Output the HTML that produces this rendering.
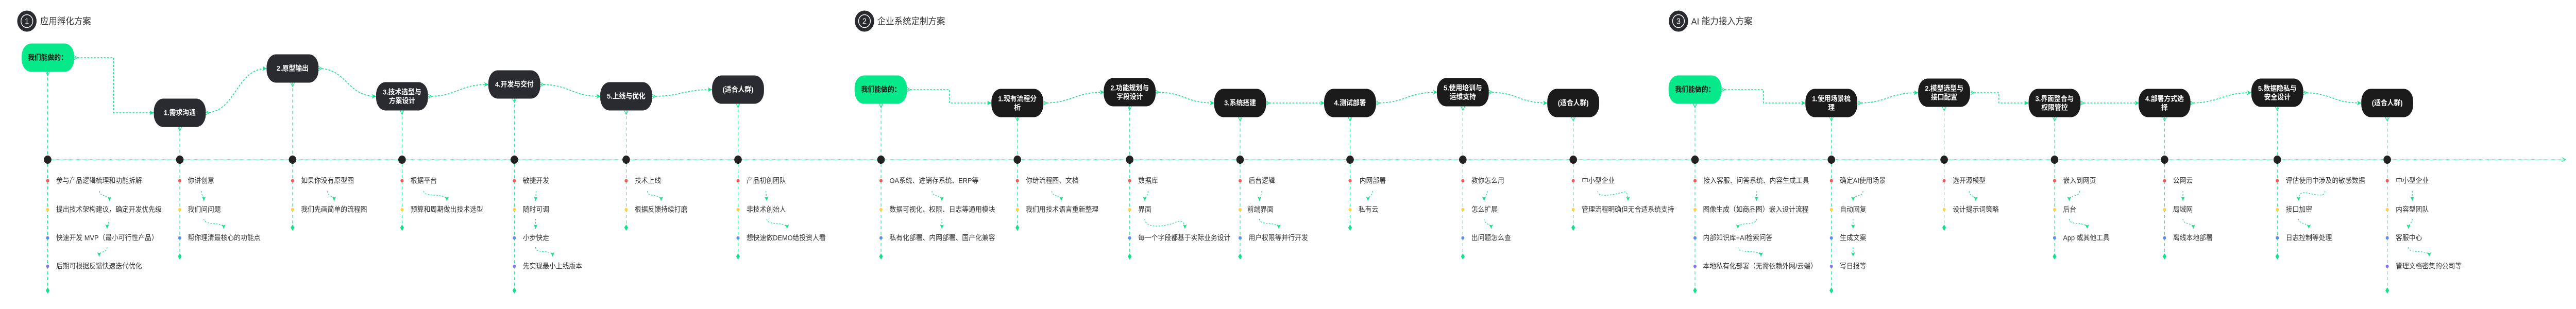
<!DOCTYPE html>
<html><head><meta charset="utf-8"><style>
html,body{margin:0;padding:0;background:#fff;width:100%;height:100%;overflow:hidden;}
svg{display:block;position:fixed;left:0;top:0;width:100vw;height:100vh;}
text{font-family:"Liberation Sans","Noto Sans CJK SC",sans-serif;}
.c{fill:none;stroke:#10e28a;stroke-width:1.6;stroke-dasharray:4 3}
.v{fill:none;stroke:#10e28a;stroke-width:1.1;stroke-dasharray:6 5}
.s{fill:none;stroke:#10e28a;stroke-width:1.3;stroke-dasharray:3 3}
.tl{fill:none;stroke:#10e28a;stroke-width:1.6;stroke-dasharray:1.2 1.3}
.a{fill:#2a2b30}.b{fill:#1b1b1b}.g{fill:#05e98a}
.nt{fill:#fff;font-size:14px;font-weight:bold;text-anchor:middle;dominant-baseline:central}
.gt{fill:#111;font-size:14px;font-weight:bold;text-anchor:middle;dominant-baseline:central}
.it{fill:#333;font-size:14px;dominant-baseline:central}
.h{fill:#333;font-size:18px;dominant-baseline:central}
.hn{fill:#fff;font-size:16px;text-anchor:middle;dominant-baseline:central}
.d{fill:#222}
.dm{fill:#10e28a}
.r{fill:#f25757}.y{fill:#fdd247}.u{fill:#5b8ef5}.p{fill:#8a77f0}
</style></head><body>
<svg viewBox="0 0 5459 600" preserveAspectRatio="none" xmlns="http://www.w3.org/2000/svg">
<defs>
<marker id="ae" viewBox="0 0 10 10" refX="10" refY="5" markerWidth="9" markerHeight="9" markerUnits="userSpaceOnUse" orient="auto"><path d="M0,0 L10,5 L0,10 L2.5,5Z" fill="#10e28a"/></marker>
<marker id="as" viewBox="0 0 10 10" refX="0.5" refY="5" markerWidth="9" markerHeight="9" markerUnits="userSpaceOnUse" orient="auto"><path d="M0.5,0.5 L9,5 L0.5,9.5" fill="none" stroke="#10e28a" stroke-width="1.3"/></marker>
<marker id="sa" viewBox="0 0 10 10" refX="10" refY="5" markerWidth="8" markerHeight="8" markerUnits="userSpaceOnUse" orient="auto"><path d="M0,0 L10,5 L0,10 L2,5Z" fill="#10e28a"/></marker>
<marker id="te" viewBox="0 0 10 10" refX="9" refY="5" markerWidth="10" markerHeight="10" markerUnits="userSpaceOnUse" orient="auto"><path d="M1,1 L9,5 L1,9" fill="none" stroke="#10e28a" stroke-width="1.2"/></marker>
</defs>

<!-- Headers -->
<circle cx="57" cy="41" r="20.5" fill="#2a2b30"/><circle cx="57" cy="41" r="12.5" fill="none" stroke="#fff" stroke-width="1.5"/><text x="57" y="42" class="hn">1</text>
<text x="85" y="41" class="h">应用孵化方案</text>
<circle cx="1832" cy="41" r="20.5" fill="#2a2b30"/><circle cx="1832" cy="41" r="12.5" fill="none" stroke="#fff" stroke-width="1.5"/><text x="1832" y="42" class="hn">2</text>
<text x="1859" y="41" class="h">企业系统定制方案</text>
<circle cx="3557" cy="41" r="20.5" fill="#2a2b30"/><circle cx="3557" cy="41" r="12.5" fill="none" stroke="#fff" stroke-width="1.5"/><text x="3557" y="42" class="hn">3</text>
<text x="3584" y="41" class="h">AI 能力接入方案</text>

<!-- Timeline -->
<line class="tl" x1="101" y1="310" x2="5437" y2="310" marker-end="url(#te)"/>

<!-- Connectors section 1 -->
<path class="c" d="M157,112 L241,112 L241,219 L326,219" marker-start="url(#as)" marker-end="url(#ae)"/>
<path class="c" d="M436,219 C500,219 500,133 565,133" marker-start="url(#as)" marker-end="url(#ae)"/>
<path class="c" d="M675,133 C735,133 735,187 797,187" marker-start="url(#as)" marker-end="url(#ae)"/>
<path class="c" d="M907,187 C971,187 971,164 1035,164" marker-start="url(#as)" marker-end="url(#ae)"/>
<path class="c" d="M1145,164 C1209,164 1209,187 1273,187" marker-start="url(#as)" marker-end="url(#ae)"/>
<path class="c" d="M1382,187 C1445,187 1445,174 1509,174" marker-start="url(#as)" marker-end="url(#ae)"/>
<!-- Connectors section 2 -->
<path class="c" d="M1922,174 L2012,174 L2012,200 L2101,200" marker-start="url(#as)" marker-end="url(#ae)"/>
<path class="c" d="M2211,200 C2275,200 2275,179 2340,179" marker-start="url(#as)" marker-end="url(#ae)"/>
<path class="c" d="M2449,179 C2511,179 2511,200 2573,200" marker-start="url(#as)" marker-end="url(#ae)"/>
<path class="c" d="M2683,200 L2807,200" marker-start="url(#as)" marker-end="url(#ae)"/>
<path class="c" d="M2916,200 C2981,200 2981,179 3046,179" marker-start="url(#as)" marker-end="url(#ae)"/>
<path class="c" d="M3155,179 C3217,179 3217,200 3279,200" marker-start="url(#as)" marker-end="url(#ae)"/>
<!-- Connectors section 3 -->
<path class="c" d="M3648,174 L3737,174 L3737,200 L3826,200" marker-start="url(#as)" marker-end="url(#ae)"/>
<path class="c" d="M3937,200 C4001,200 4001,180 4065,180" marker-start="url(#as)" marker-end="url(#ae)"/>
<path class="c" d="M4176,180 L4236,180 L4236,200 L4299,200" marker-start="url(#as)" marker-end="url(#ae)"/>
<path class="c" d="M4409,200 L4533,200" marker-start="url(#as)" marker-end="url(#ae)"/>
<path class="c" d="M4641,200 C4706,200 4706,180 4771,180" marker-start="url(#as)" marker-end="url(#ae)"/>
<path class="c" d="M4881,180 C4942,180 4942,200 5004,200" marker-start="url(#as)" marker-end="url(#ae)"/>

<!-- Nodes section 1 -->
<rect class="g" x="46" y="84.5" width="111" height="55" rx="20" ry="24"/><text class="gt" x="101" y="112">我们能做的：</text>
<rect class="a" x="326" y="191.5" width="110" height="55" rx="20" ry="24"/><text class="nt" x="381" y="219">1.需求沟通</text>
<rect class="a" x="565" y="105.5" width="110" height="55" rx="20" ry="24"/><text class="nt" x="620" y="133">2.原型输出</text>
<rect class="a" x="797" y="159.5" width="110" height="55" rx="20" ry="24"/><text class="nt" x="852" y="179">3.技术选型与</text><text class="nt" x="852" y="196">方案设计</text>
<rect class="a" x="1035" y="136.5" width="110" height="55" rx="20" ry="24"/><text class="nt" x="1090" y="164">4.开发与交付</text>
<rect class="a" x="1272" y="159.5" width="110" height="55" rx="20" ry="24"/><text class="nt" x="1327" y="187">5.上线与优化</text>
<rect class="a" x="1509" y="146.5" width="110" height="55" rx="20" ry="24"/><text class="nt" x="1564" y="174">(适合人群)</text>
<!-- Nodes section 2 -->
<rect class="g" x="1811" y="146.5" width="111" height="55" rx="20" ry="24"/><text class="gt" x="1867" y="174">我们能做的：</text>
<rect class="b" x="2101" y="172.5" width="110" height="55" rx="20" ry="24"/><text class="nt" x="2156" y="192">1.现有流程分</text><text class="nt" x="2156" y="209">析</text>
<rect class="b" x="2339" y="151.5" width="110" height="55" rx="20" ry="24"/><text class="nt" x="2394" y="171">2.功能规划与</text><text class="nt" x="2394" y="188">字段设计</text>
<rect class="b" x="2573" y="172.5" width="110" height="55" rx="20" ry="24"/><text class="nt" x="2628" y="200">3.系统搭建</text>
<rect class="b" x="2806" y="172.5" width="110" height="55" rx="20" ry="24"/><text class="nt" x="2861" y="200">4.测试部署</text>
<rect class="b" x="3045" y="151.5" width="110" height="55" rx="20" ry="24"/><text class="nt" x="3100" y="171">5.使用培训与</text><text class="nt" x="3100" y="188">运维支持</text>
<rect class="b" x="3279" y="172.5" width="110" height="55" rx="20" ry="24"/><text class="nt" x="3334" y="200">(适合人群)</text>
<!-- Nodes section 3 -->
<rect class="g" x="3536" y="146.5" width="112" height="55" rx="20" ry="24"/><text class="gt" x="3592" y="174">我们能做的：</text>
<rect class="b" x="3826" y="172.5" width="110" height="55" rx="20" ry="24"/><text class="nt" x="3881" y="192">1.使用场景梳</text><text class="nt" x="3881" y="209">理</text>
<rect class="b" x="4065" y="152.5" width="110" height="55" rx="20" ry="24"/><text class="nt" x="4120" y="172">2.模型选型与</text><text class="nt" x="4120" y="189">接口配置</text>
<rect class="b" x="4299" y="172.5" width="110" height="55" rx="20" ry="24"/><text class="nt" x="4354" y="192">3.界面整合与</text><text class="nt" x="4354" y="209">权限管控</text>
<rect class="b" x="4532" y="172.5" width="110" height="55" rx="20" ry="24"/><text class="nt" x="4587" y="192">4.部署方式选</text><text class="nt" x="4587" y="209">择</text>
<rect class="b" x="4771" y="152.5" width="110" height="55" rx="20" ry="24"/><text class="nt" x="4826" y="172">5.数据隐私与</text><text class="nt" x="4826" y="189">安全设计</text>
<rect class="b" x="5004" y="172.5" width="110" height="55" rx="20" ry="24"/><text class="nt" x="5059" y="200">(适合人群)</text>

<!-- ===== Columns section 1 ===== -->
<line class="v" x1="101" y1="139.5" x2="101" y2="302" marker-start="url(#as)"/>
<circle class="d" cx="101" cy="310" r="8"/>
<line class="v" x1="101" y1="318" x2="101" y2="564"/>
<path class="dm" d="M101,558 l4,6 -4,6 -4,-6z"/>
<circle class="r" cx="101" cy="351" r="3.3"/><text class="it" x="119" y="351">参与产品逻辑梳理和功能拆解</text>
<circle class="y" cx="101" cy="407" r="3.3"/><text class="it" x="119" y="407">提出技术架构建议，确定开发优先级</text>
<circle class="u" cx="101" cy="462" r="3.3"/><text class="it" x="119" y="462">快速开发 MVP（最小可行性产品）</text>
<circle class="p" cx="101" cy="517" r="3.3"/><text class="it" x="119" y="517">后期可根据反馈快速迭代优化</text>
<path class="s" d="M211,371 C211,383 232,378 232,390" marker-end="url(#sa)"/>
<path class="s" d="M231,425 C231,437 227,432 227,444" marker-end="url(#sa)"/>
<path class="s" d="M227,480 C227,492 210,486 210,498" marker-end="url(#sa)"/>

<line class="v" x1="381" y1="246.5" x2="381" y2="302" marker-start="url(#as)"/>
<circle class="d" cx="381" cy="310" r="8"/>
<line class="v" x1="381" y1="318" x2="381" y2="498"/>
<path class="dm" d="M381,492 l4,6 -4,6 -4,-6z"/>
<circle class="r" cx="381" cy="351" r="3.3"/><text class="it" x="398" y="351">你讲创意</text>
<circle class="y" cx="381" cy="407" r="3.3"/><text class="it" x="398" y="407">我们问问题</text>
<circle class="u" cx="381" cy="462" r="3.3"/><text class="it" x="398" y="462">帮你理清最核心的功能点</text>
<path class="s" d="M427,371 C427,383 432,378 432,390" marker-end="url(#sa)"/>
<path class="s" d="M432,425 C432,440 474,428 474,444" marker-end="url(#sa)"/>

<line class="v" x1="620" y1="160.5" x2="620" y2="302" marker-start="url(#as)"/>
<circle class="d" cx="620" cy="310" r="8"/>
<line class="v" x1="620" y1="318" x2="620" y2="442"/>
<path class="dm" d="M620,436 l4,6 -4,6 -4,-6z"/>
<circle class="r" cx="620" cy="351" r="3.3"/><text class="it" x="638" y="351">如果你没有原型图</text>
<circle class="y" cx="620" cy="407" r="3.3"/><text class="it" x="638" y="407">我们先画简单的流程图</text>
<path class="s" d="M694,371 C694,383 708,378 708,390" marker-end="url(#sa)"/>

<line class="v" x1="852" y1="214.5" x2="852" y2="302" marker-start="url(#as)"/>
<circle class="d" cx="852" cy="310" r="8"/>
<line class="v" x1="852" y1="318" x2="852" y2="442"/>
<path class="dm" d="M852,436 l4,6 -4,6 -4,-6z"/>
<circle class="r" cx="852" cy="351" r="3.3"/><text class="it" x="870" y="351">根据平台</text>
<circle class="y" cx="852" cy="407" r="3.3"/><text class="it" x="870" y="407">预算和周期做出技术选型</text>
<path class="s" d="M898,371 C898,385 947,372 947,390" marker-end="url(#sa)"/>

<line class="v" x1="1090" y1="191.5" x2="1090" y2="302" marker-start="url(#as)"/>
<circle class="d" cx="1090" cy="310" r="8"/>
<line class="v" x1="1090" y1="318" x2="1090" y2="564"/>
<path class="dm" d="M1090,558 l4,6 -4,6 -4,-6z"/>
<circle class="r" cx="1090" cy="351" r="3.3"/><text class="it" x="1108" y="351">敏捷开发</text>
<circle class="y" cx="1090" cy="407" r="3.3"/><text class="it" x="1108" y="407">随时可调</text>
<circle class="u" cx="1090" cy="462" r="3.3"/><text class="it" x="1108" y="462">小步快走</text>
<circle class="p" cx="1090" cy="517" r="3.3"/><text class="it" x="1108" y="517">先实现最小上线版本</text>
<path class="s" d="M1136,371 L1135,390" marker-end="url(#sa)"/>
<path class="s" d="M1135,425 L1135,444" marker-end="url(#sa)"/>
<path class="s" d="M1135,480 C1135,495 1171,482 1171,498" marker-end="url(#sa)"/>

<line class="v" x1="1327" y1="214.5" x2="1327" y2="302" marker-start="url(#as)"/>
<circle class="d" cx="1327" cy="310" r="8"/>
<line class="v" x1="1327" y1="318" x2="1327" y2="442"/>
<path class="dm" d="M1327,436 l4,6 -4,6 -4,-6z"/>
<circle class="r" cx="1327" cy="351" r="3.3"/><text class="it" x="1345" y="351">技术上线</text>
<circle class="y" cx="1327" cy="407" r="3.3"/><text class="it" x="1345" y="407">根据反馈持续打磨</text>
<path class="s" d="M1372,371 C1372,385 1401,374 1401,390" marker-end="url(#sa)"/>

<line class="v" x1="1564" y1="201.5" x2="1564" y2="302" marker-start="url(#as)"/>
<circle class="d" cx="1564" cy="310" r="8"/>
<line class="v" x1="1564" y1="318" x2="1564" y2="498"/>
<path class="dm" d="M1564,492 l4,6 -4,6 -4,-6z"/>
<circle class="r" cx="1564" cy="351" r="3.3"/><text class="it" x="1582" y="351">产品初创团队</text>
<circle class="y" cx="1564" cy="407" r="3.3"/><text class="it" x="1582" y="407">非技术创始人</text>
<circle class="u" cx="1564" cy="462" r="3.3"/><text class="it" x="1582" y="462">想快速做DEMO给投资人看</text>
<path class="s" d="M1623,371 L1625,390" marker-end="url(#sa)"/>
<path class="s" d="M1625,425 C1625,440 1668,428 1668,444" marker-end="url(#sa)"/>

<!-- ===== Columns section 2 ===== -->
<line class="v" x1="1867" y1="201.5" x2="1867" y2="302" marker-start="url(#as)"/>
<circle class="d" cx="1867" cy="310" r="8"/>
<line class="v" x1="1867" y1="318" x2="1867" y2="498"/>
<path class="dm" d="M1867,492 l4,6 -4,6 -4,-6z"/>
<circle class="r" cx="1867" cy="351" r="3.3"/><text class="it" x="1885" y="351">OA系统、进销存系统、ERP等</text>
<circle class="y" cx="1867" cy="407" r="3.3"/><text class="it" x="1885" y="407">数据可视化、权限、日志等通用模块</text>
<circle class="u" cx="1867" cy="462" r="3.3"/><text class="it" x="1885" y="462">私有化部署、内网部署、国产化兼容</text>
<path class="s" d="M1975,371 C1975,383 1996,378 1996,390" marker-end="url(#sa)"/>
<path class="s" d="M1996,425 L1996,444" marker-end="url(#sa)"/>

<line class="v" x1="2156" y1="227.5" x2="2156" y2="302" marker-start="url(#as)"/>
<circle class="d" cx="2156" cy="310" r="8"/>
<line class="v" x1="2156" y1="318" x2="2156" y2="442"/>
<path class="dm" d="M2156,436 l4,6 -4,6 -4,-6z"/>
<circle class="r" cx="2156" cy="351" r="3.3"/><text class="it" x="2174" y="351">你给流程图、文档</text>
<circle class="y" cx="2156" cy="407" r="3.3"/><text class="it" x="2174" y="407">我们用技术语言重新整理</text>
<path class="s" d="M2229,371 C2229,383 2249,378 2249,390" marker-end="url(#sa)"/>

<line class="v" x1="2394" y1="206.5" x2="2394" y2="302" marker-start="url(#as)"/>
<circle class="d" cx="2394" cy="310" r="8"/>
<line class="v" x1="2394" y1="318" x2="2394" y2="498"/>
<path class="dm" d="M2394,492 l4,6 -4,6 -4,-6z"/>
<circle class="r" cx="2394" cy="351" r="3.3"/><text class="it" x="2412" y="351">数据库</text>
<circle class="y" cx="2394" cy="407" r="3.3"/><text class="it" x="2412" y="407">界面</text>
<circle class="u" cx="2394" cy="462" r="3.3"/><text class="it" x="2412" y="462">每一个字段都基于实际业务设计</text>
<path class="s" d="M2433,371 C2433,380 2426,381 2426,390" marker-end="url(#sa)"/>
<path class="s" d="M2426,425 C2426,445 2470,440 2490,432 C2505,426 2511,432 2511,444" marker-end="url(#sa)"/>

<line class="v" x1="2628" y1="227.5" x2="2628" y2="302" marker-start="url(#as)"/>
<circle class="d" cx="2628" cy="310" r="8"/>
<line class="v" x1="2628" y1="318" x2="2628" y2="498"/>
<path class="dm" d="M2628,492 l4,6 -4,6 -4,-6z"/>
<circle class="r" cx="2628" cy="351" r="3.3"/><text class="it" x="2646" y="351">后台逻辑</text>
<circle class="y" cx="2628" cy="407" r="3.3"/><text class="it" x="2643" y="407">前端界面</text>
<circle class="u" cx="2628" cy="462" r="3.3"/><text class="it" x="2646" y="462">用户权限等并行开发</text>
<path class="s" d="M2674,371 C2674,380 2669,381 2669,390" marker-end="url(#sa)"/>
<path class="s" d="M2669,425 C2669,440 2710,428 2710,444" marker-end="url(#sa)"/>

<line class="v" x1="2861" y1="227.5" x2="2861" y2="302" marker-start="url(#as)"/>
<circle class="d" cx="2861" cy="310" r="8"/>
<line class="v" x1="2861" y1="318" x2="2861" y2="442"/>
<path class="dm" d="M2861,436 l4,6 -4,6 -4,-6z"/>
<circle class="r" cx="2861" cy="351" r="3.3"/><text class="it" x="2881" y="351">内网部署</text>
<circle class="y" cx="2861" cy="407" r="3.3"/><text class="it" x="2879" y="407">私有云</text>
<path class="s" d="M2909,371 C2909,380 2899,381 2899,390" marker-end="url(#sa)"/>

<line class="v" x1="3100" y1="206.5" x2="3100" y2="302" marker-start="url(#as)"/>
<circle class="d" cx="3100" cy="310" r="8"/>
<line class="v" x1="3100" y1="318" x2="3100" y2="498"/>
<path class="dm" d="M3100,492 l4,6 -4,6 -4,-6z"/>
<circle class="r" cx="3100" cy="351" r="3.3"/><text class="it" x="3118" y="351">教你怎么用</text>
<circle class="y" cx="3100" cy="407" r="3.3"/><text class="it" x="3118" y="407">怎么扩展</text>
<circle class="u" cx="3100" cy="462" r="3.3"/><text class="it" x="3118" y="462">出问题怎么查</text>
<path class="s" d="M3152,371 C3152,380 3145,381 3145,390" marker-end="url(#sa)"/>
<path class="s" d="M3145,425 C3145,436 3160,434 3160,444" marker-end="url(#sa)"/>

<line class="v" x1="3334" y1="227.5" x2="3334" y2="302" marker-start="url(#as)"/>
<circle class="d" cx="3334" cy="310" r="8"/>
<line class="v" x1="3334" y1="318" x2="3334" y2="442"/>
<path class="dm" d="M3334,436 l4,6 -4,6 -4,-6z"/>
<circle class="r" cx="3334" cy="351" r="3.3"/><text class="it" x="3352" y="351">中小型企业</text>
<circle class="y" cx="3334" cy="407" r="3.3"/><text class="it" x="3352" y="407">管理流程明确但无合适系统支持</text>
<path class="s" d="M3386,371 C3386,385 3420,378 3440,373 C3448,371 3450,378 3450,390" marker-end="url(#sa)"/>

<!-- ===== Columns section 3 ===== -->
<line class="v" x1="3592" y1="201.5" x2="3592" y2="302" marker-start="url(#as)"/>
<circle class="d" cx="3592" cy="310" r="8"/>
<line class="v" x1="3592" y1="318" x2="3592" y2="564"/>
<path class="dm" d="M3592,558 l4,6 -4,6 -4,-6z"/>
<circle class="r" cx="3592" cy="351" r="3.3"/><text class="it" x="3610" y="351">接入客服、问答系统、内容生成工具</text>
<circle class="y" cx="3592" cy="407" r="3.3"/><text class="it" x="3609" y="407">图像生成（如商品图）嵌入设计流程</text>
<circle class="u" cx="3592" cy="462" r="3.3"/><text class="it" x="3609" y="462">内部知识库+AI检索问答</text>
<circle class="p" cx="3592" cy="517" r="3.3"/><text class="it" x="3609" y="517">本地私有化部署（无需依赖外网/云端）</text>
<path class="s" d="M3723,371 L3722,390" marker-end="url(#sa)"/>
<path class="s" d="M3723,425 C3723,440 3683,428 3683,444" marker-end="url(#sa)"/>
<path class="s" d="M3683,480 C3683,495 3732,482 3732,498" marker-end="url(#sa)"/>

<line class="v" x1="3881" y1="227.5" x2="3881" y2="302" marker-start="url(#as)"/>
<circle class="d" cx="3881" cy="310" r="8"/>
<line class="v" x1="3881" y1="318" x2="3881" y2="564"/>
<path class="dm" d="M3881,558 l4,6 -4,6 -4,-6z"/>
<circle class="r" cx="3881" cy="351" r="3.3"/><text class="it" x="3899" y="351">确定AI使用场景</text>
<circle class="y" cx="3881" cy="407" r="3.3"/><text class="it" x="3899" y="407">自动回复</text>
<circle class="u" cx="3881" cy="462" r="3.3"/><text class="it" x="3899" y="462">生成文案</text>
<circle class="p" cx="3881" cy="517" r="3.3"/><text class="it" x="3899" y="517">写日报等</text>
<path class="s" d="M3948,371 C3948,384 3927,376 3927,390" marker-end="url(#sa)"/>
<path class="s" d="M3927,425 L3927,444" marker-end="url(#sa)"/>
<path class="s" d="M3927,480 L3927,498" marker-end="url(#sa)"/>

<line class="v" x1="4120" y1="207.5" x2="4120" y2="302" marker-start="url(#as)"/>
<circle class="d" cx="4120" cy="310" r="8"/>
<line class="v" x1="4120" y1="318" x2="4120" y2="442"/>
<path class="dm" d="M4120,436 l4,6 -4,6 -4,-6z"/>
<circle class="r" cx="4120" cy="351" r="3.3"/><text class="it" x="4138" y="351">选开源模型</text>
<circle class="y" cx="4120" cy="407" r="3.3"/><text class="it" x="4138" y="407">设计提示词策略</text>
<path class="s" d="M4173,371 C4173,383 4187,378 4187,390" marker-end="url(#sa)"/>

<line class="v" x1="4354" y1="227.5" x2="4354" y2="302" marker-start="url(#as)"/>
<circle class="d" cx="4354" cy="310" r="8"/>
<line class="v" x1="4354" y1="318" x2="4354" y2="498"/>
<path class="dm" d="M4354,492 l4,6 -4,6 -4,-6z"/>
<circle class="r" cx="4354" cy="351" r="3.3"/><text class="it" x="4372" y="351">嵌入到网页</text>
<circle class="y" cx="4354" cy="407" r="3.3"/><text class="it" x="4372" y="407">后台</text>
<circle class="u" cx="4354" cy="462" r="3.3"/><text class="it" x="4372" y="462">App 或其他工具</text>
<path class="s" d="M4407,371 C4407,384 4385,376 4385,390" marker-end="url(#sa)"/>
<path class="s" d="M4385,425 C4385,440 4423,428 4423,444" marker-end="url(#sa)"/>

<line class="v" x1="4587" y1="227.5" x2="4587" y2="302" marker-start="url(#as)"/>
<circle class="d" cx="4587" cy="310" r="8"/>
<line class="v" x1="4587" y1="318" x2="4587" y2="498"/>
<path class="dm" d="M4587,492 l4,6 -4,6 -4,-6z"/>
<circle class="r" cx="4587" cy="351" r="3.3"/><text class="it" x="4605" y="351">公网云</text>
<circle class="y" cx="4587" cy="407" r="3.3"/><text class="it" x="4605" y="407">局域网</text>
<circle class="u" cx="4587" cy="462" r="3.3"/><text class="it" x="4605" y="462">离线本地部署</text>
<path class="s" d="M4626,371 L4626,390" marker-end="url(#sa)"/>
<path class="s" d="M4626,425 C4626,438 4648,430 4648,444" marker-end="url(#sa)"/>

<line class="v" x1="4826" y1="207.5" x2="4826" y2="302" marker-start="url(#as)"/>
<circle class="d" cx="4826" cy="310" r="8"/>
<line class="v" x1="4826" y1="318" x2="4826" y2="498"/>
<path class="dm" d="M4826,492 l4,6 -4,6 -4,-6z"/>
<circle class="r" cx="4826" cy="351" r="3.3"/><text class="it" x="4844" y="351">评估使用中涉及的敏感数据</text>
<circle class="y" cx="4826" cy="407" r="3.3"/><text class="it" x="4844" y="407">接口加密</text>
<circle class="u" cx="4826" cy="462" r="3.3"/><text class="it" x="4844" y="462">日志控制等处理</text>
<path class="s" d="M4927,371 C4927,385 4900,376 4885,374 C4875,373 4871,378 4871,390" marker-end="url(#sa)"/>
<path class="s" d="M4871,425 C4871,436 4893,432 4893,444" marker-end="url(#sa)"/>

<line class="v" x1="5059" y1="227.5" x2="5059" y2="302" marker-start="url(#as)"/>
<circle class="d" cx="5059" cy="310" r="8"/>
<line class="v" x1="5059" y1="318" x2="5059" y2="564"/>
<path class="dm" d="M5059,558 l4,6 -4,6 -4,-6z"/>
<circle class="r" cx="5059" cy="351" r="3.3"/><text class="it" x="5077" y="351">中小型企业</text>
<circle class="y" cx="5059" cy="407" r="3.3"/><text class="it" x="5077" y="407">内容型团队</text>
<circle class="u" cx="5059" cy="462" r="3.3"/><text class="it" x="5077" y="462">客服中心</text>
<circle class="p" cx="5059" cy="517" r="3.3"/><text class="it" x="5077" y="517">管理文档密集的公司等</text>
<path class="s" d="M5112,371 L5112,390" marker-end="url(#sa)"/>
<path class="s" d="M5112,425 C5112,434 5104,434 5104,444" marker-end="url(#sa)"/>
<path class="s" d="M5104,480 C5104,495 5148,482 5148,498" marker-end="url(#sa)"/>
</svg>
</body></html>
